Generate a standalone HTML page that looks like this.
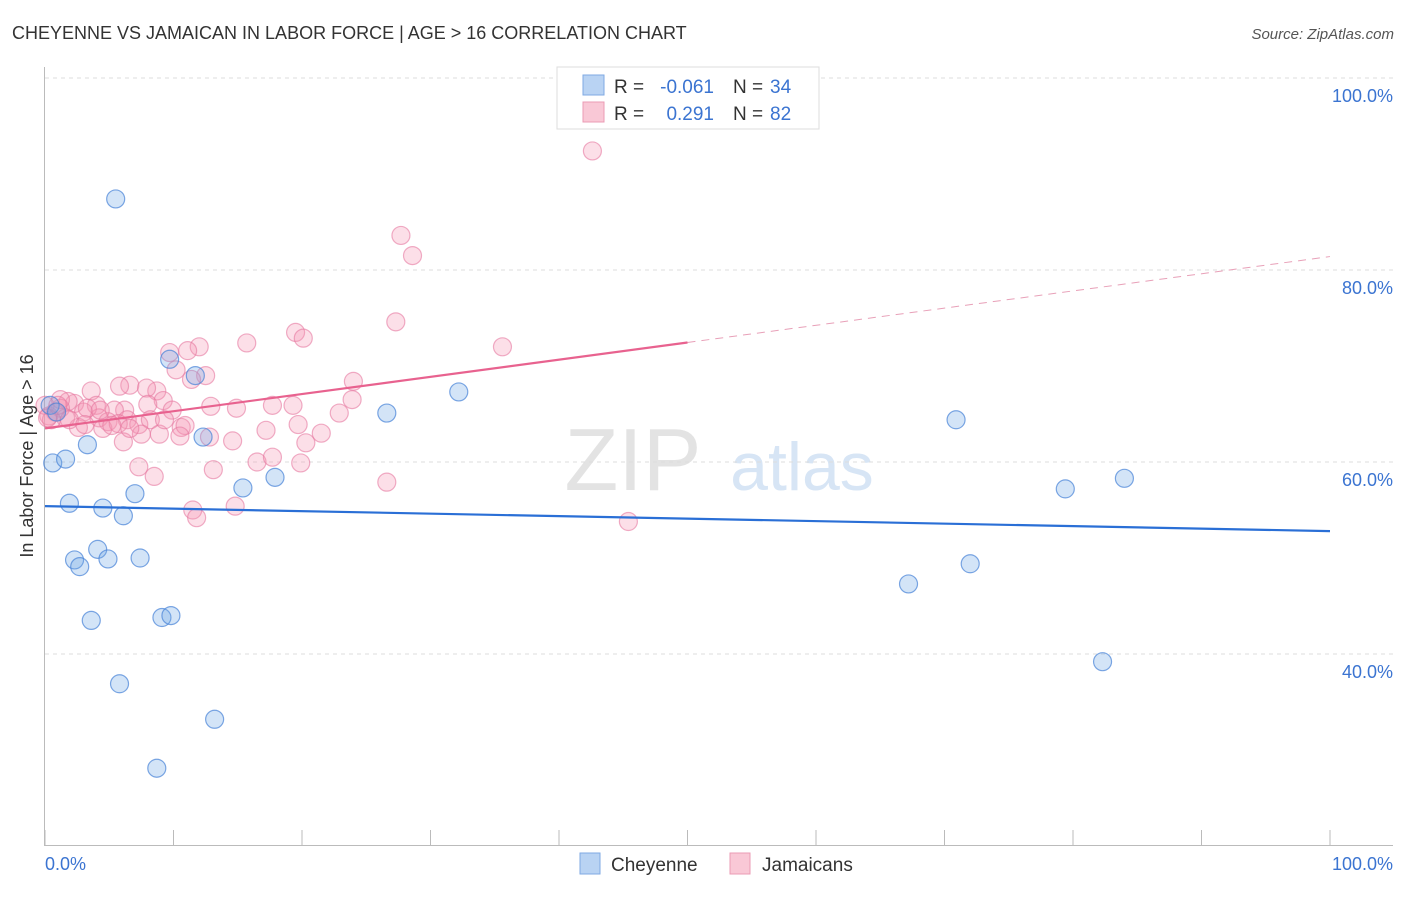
<!DOCTYPE html>
<html><head><meta charset="utf-8">
<style>
body{margin:0;background:#fff;font-family:"Liberation Sans",sans-serif;}
svg text{font-family:"Liberation Sans",sans-serif;}
</style></head>
<body>
<svg id="chart" width="1406" height="892" viewBox="0 0 1406 892" xmlns="http://www.w3.org/2000/svg">
<text x="12" y="39" font-size="18" fill="#333">CHEYENNE VS JAMAICAN IN LABOR FORCE | AGE &gt; 16 CORRELATION CHART</text>
<text x="1394" y="39" font-size="15" fill="#555" text-anchor="end" font-style="italic">Source: ZipAtlas.com</text>
<g>
<text x="633" y="490" font-size="88" fill="#e3e3e3" font-family="Liberation Serif" text-anchor="middle">ZIP</text>
<text x="802" y="490" font-size="68" fill="#d7e5f5" text-anchor="middle">atlas</text>
</g>
<g id="grid"></g>
<g id="axes"></g>
<g id="marks"></g>
<text transform="translate(33,456) rotate(-90)" font-size="18" fill="#333" text-anchor="middle">In Labor Force | Age &gt; 16</text>
<g>
<rect x="557" y="67" width="262" height="62" fill="#fff" stroke="#ddd"/>
<g>
<rect x="583" y="75" width="21" height="20" fill="#b9d3f3" stroke="#7fa9e3"/>
<text x="614" y="93" font-size="19" fill="#333">R =</text>
<text x="714" y="93" font-size="19" fill="#3b74d1" text-anchor="end">-0.061</text>
<text x="733" y="93" font-size="19" fill="#333">N =</text>
<text x="770" y="93" font-size="19" fill="#3b74d1">34</text>
</g>
<g>
<rect x="583" y="102" width="21" height="20" fill="#f9c8d6" stroke="#eb9bb4"/>
<text x="614" y="120" font-size="19" fill="#333">R =</text>
<text x="714" y="120" font-size="19" fill="#3b74d1" text-anchor="end">0.291</text>
<text x="733" y="120" font-size="19" fill="#333">N =</text>
<text x="770" y="120" font-size="19" fill="#3b74d1">82</text>
</g>
</g>
<g>
<rect x="580" y="853" width="20" height="21" fill="#b9d3f3" stroke="#7fa9e3"/>
<text x="611" y="871" font-size="19" fill="#333">Cheyenne</text>
<rect x="730" y="853" width="20" height="21" fill="#f9c8d6" stroke="#eb9bb4"/>
<text x="762" y="871" font-size="19" fill="#333">Jamaicans</text>
</g>
</svg>
<script>
const xTicks=[0,10,20,30,40,50,60,70,80,90,100];
const yTicks=[40,60,80,100];
const yTickLabels=["40.0%","60.0%","80.0%","100.0%"];
const cheyenneX=[5.5,0.6,1.6,3.3,1.9,4.5,6.1,7.0,2.3,2.7,4.1,4.9,7.4,3.6,9.1,9.8,5.8,13.2,8.7,9.7,11.7,12.3,15.4,17.9,26.6,32.2,70.9,79.4,84.0,67.2,72.0,82.3,0.4,0.9];
const cheyenneY=[87.4,59.9,60.3,61.8,55.7,55.2,54.4,56.7,49.8,49.1,50.9,49.9,50.0,43.5,43.8,44.0,36.9,33.2,28.1,70.7,69.0,62.6,57.3,58.4,65.1,67.3,64.4,57.2,58.3,47.3,49.4,39.2,65.9,65.2];
const jamaicanX=[42.6,27.7,28.6,27.3,19.5,20.1,35.6,15.7,12.0,9.7,11.1,10.2,12.5,11.4,24.0,8.7,6.6,5.8,3.6,7.9,9.2,9.9,8.0,6.2,5.4,4.0,2.3,1.8,1.2,0.8,0.3,3.0,4.2,6.4,7.3,4.9,4.5,5.7,2.6,8.2,10.6,10.9,7.5,10.5,12.9,14.9,17.7,19.3,22.9,23.9,17.2,19.7,21.5,20.3,14.6,12.8,6.1,7.3,8.5,13.1,16.5,17.7,19.9,26.6,11.5,11.8,14.8,45.4,1.2,1.6,0.5,3.3,5.2,8.9,0.0,0.2,1.9,3.1,6.6,9.3,4.3,1.0];
const jamaicanY=[92.4,83.6,81.5,74.6,73.5,72.9,72.0,72.4,72.0,71.4,71.6,69.6,69.0,68.6,68.4,67.4,68.0,67.9,67.4,67.7,66.4,65.4,66.0,65.4,65.4,65.9,66.1,66.3,65.6,65.2,64.8,65.2,64.6,64.4,63.9,64.2,63.5,64.0,63.6,64.4,63.6,63.8,62.9,62.7,65.8,65.6,65.9,65.9,65.1,66.5,63.3,63.9,63.0,62.0,62.2,62.6,62.1,59.5,58.5,59.2,60.0,60.5,59.9,57.9,55.0,54.2,55.4,53.8,66.5,64.6,64.4,65.6,63.8,62.9,65.9,64.6,64.4,63.9,63.5,64.4,65.4,65.9];
const cheyenneTrend=[55.4,52.8];
const jamaicanTrend=[63.5,81.4];
const jamaicanSolidEnd=50;

const NS="http://www.w3.org/2000/svg";
const xs=v=>45+v*12.85;
const ys=v=>846-(v-20)*9.6;
function mk(tag,attrs,parent){const e=document.createElementNS(NS,tag);for(const k in attrs)e.setAttribute(k,attrs[k]);parent.appendChild(e);return e;}
const grid=document.getElementById('grid'),axes=document.getElementById('axes'),marks=document.getElementById('marks');
yTicks.forEach((t,i)=>{
  const l=mk('line',{x1:45,x2:1393,y1:ys(t),y2:ys(t),stroke:'#ddd','stroke-dasharray':'4,4'},grid);
  
  
  const tx=mk('text',{x:1393,y:ys(t)+24,'font-size':18,fill:'#3b74d1','text-anchor':'end'},axes);
  tx.textContent=yTickLabels[i];
  
  
});
let a=mk('line',{x1:44.5,x2:44.5,y1:67,y2:846,stroke:'#bbb'},axes);


a=mk('line',{x1:44,x2:1393,y1:845.5,y2:845.5,stroke:'#bbb'},axes);


xTicks.forEach(t=>{
  const l=mk('line',{x1:xs(t),x2:xs(t),y1:830,y2:846,stroke:'#bbb'},axes);
  
  
});
let t0=mk('text',{x:45,y:870,'font-size':18,fill:'#3b74d1'},axes);t0.textContent='0.0%';


let t1=mk('text',{x:1393,y:870,'font-size':18,fill:'#3b74d1','text-anchor':'end'},axes);t1.textContent='100.0%';



jamaicanX.forEach((x,i)=>{
  const c=mk('circle',{cx:xs(x),cy:ys(jamaicanY[i]),r:9,fill:'rgba(244,150,180,0.3)',stroke:'rgba(230,120,160,0.6)','stroke-width':1.2},marks);
  
  
});
cheyenneX.forEach((x,i)=>{
  const c=mk('circle',{cx:xs(x),cy:ys(cheyenneY[i]),r:9,fill:'rgba(110,165,230,0.3)',stroke:'rgba(70,130,215,0.7)','stroke-width':1.2},marks);
  
  
});
const jm=v=>jamaicanTrend[0]+(jamaicanTrend[1]-jamaicanTrend[0])*v/100;
let tl=mk('line',{x1:xs(0),y1:ys(cheyenneTrend[0]),x2:xs(100),y2:ys(cheyenneTrend[1]),stroke:'#2a6fd6','stroke-width':2.2},marks);


tl=mk('line',{x1:xs(0),y1:ys(jm(0)),x2:xs(jamaicanSolidEnd),y2:ys(jm(jamaicanSolidEnd)),stroke:'#e8628f','stroke-width':2.2},marks);


tl=mk('line',{x1:xs(jamaicanSolidEnd),y1:ys(jm(jamaicanSolidEnd)),x2:xs(100),y2:ys(jm(100)),stroke:'#e8a0b8','stroke-width':1,'stroke-dasharray':'8,6'},marks);


</script>
</body></html>
